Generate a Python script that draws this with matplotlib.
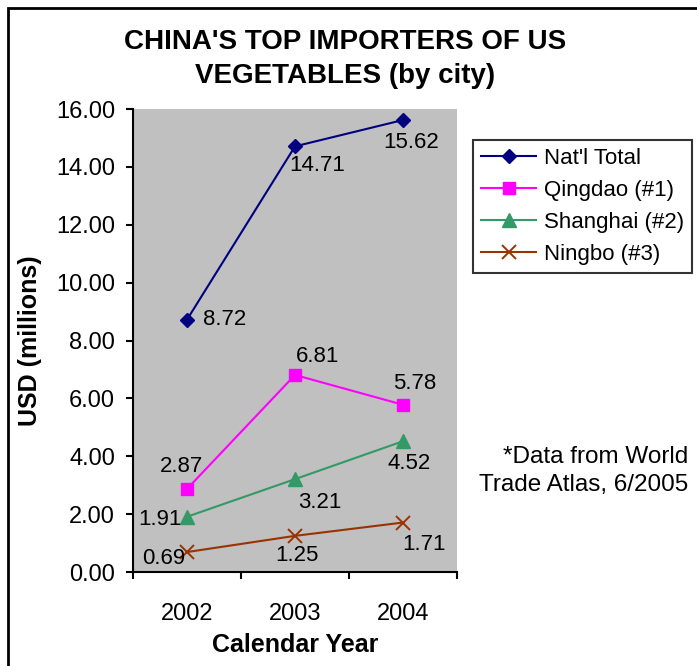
import matplotlib.pyplot as plt
from matplotlib.patches import Rectangle

plt.rcParams['font.family'] = ['Liberation Sans', 'DejaVu Sans']

years = ['2002', '2003', '2004']
natl = [8.72, 14.71, 15.62]
qingdao = [2.87, 6.81, 5.78]
shanghai = [1.91, 3.21, 4.52]
ningbo = [0.69, 1.25, 1.71]

fig = plt.figure(figsize=(6.97, 6.66), dpi=100)
ax = fig.add_axes([0.1908, 0.1411, 0.4649, 0.6952])
ax.set_facecolor('#C0C0C0')

x = range(len(years))
ax.plot(x, natl, color='#000080', marker='D', markersize=7.5, label="Nat'l Total")
ax.plot(x, qingdao, color='#FF00FF', marker='s', markersize=8, label='Qingdao (#1)')
ax.plot(x, shanghai, color='#339966', marker='^', markersize=10, label='Shanghai (#2)')
ax.plot(x, ningbo, color='#993300', marker='x', markersize=9.5, markeredgewidth=1.4, label='Ningbo (#3)')

# label offsets (points) from each point, centred text
offs = {
    'natl': [(27, 0), (16, -13.5), (6, -16)],
    'qingdao': [(-4, 16), (16.5, 13), (8.5, 15)],
    'shanghai': [(-19.5, -2), (18, -17), (4.5, -16)],
    'ningbo': [(-16.5, -4.5), (1.5, -14), (15, -16)],
}
for key, vals in [('natl', natl), ('qingdao', qingdao), ('shanghai', shanghai), ('ningbo', ningbo)]:
    for i, v in enumerate(vals):
        dx, dy = offs[key][i]
        ax.annotate('%.2f' % v, (i, v), xytext=(dx, dy), textcoords='offset points',
                    ha='center', va='center', fontsize=16)

ax.set_xlim(-0.5, 2.5)
ax.set_ylim(0, 16)
ax.set_yticks([0, 2, 4, 6, 8, 10, 12, 14, 16])
ax.set_yticklabels(['%.2f' % t for t in ax.get_yticks()], fontsize=17)
ax.set_xticks([-0.5, 0.5, 1.5, 2.5])
ax.set_xticklabels([])
ax.set_xticks([0, 1, 2], minor=True)
ax.set_xticklabels(years, minor=True, fontsize=17)
ax.tick_params(axis='x', which='minor', length=0, pad=22)
ax.tick_params(axis='both', which='major', direction='out', length=5, width=1.5)
ax.tick_params(axis='y', pad=8)
for s in ['top', 'right']:
    ax.spines[s].set_visible(False)
ax.spines['left'].set_linewidth(1.5)
ax.spines['bottom'].set_linewidth(1.5)

ax.set_ylabel('USD (millions)', fontsize=18, fontweight='bold', labelpad=10)
ax.set_xlabel('Calendar Year', fontsize=18, fontweight='bold', labelpad=6)

fig.text(0.495, 0.911, "CHINA'S TOP IMPORTERS OF US\nVEGETABLES (by city)", ha='center', va='center',
         fontsize=20, fontweight='bold', linespacing=1.4)

leg = fig.legend(loc='upper left', bbox_to_anchor=(0.6786, 0.7898), fontsize=16, frameon=True,
                 fancybox=False, edgecolor='black', borderpad=0.35, handlelength=2.5,
                 labelspacing=0.5, borderaxespad=0, handletextpad=0.35)
leg.get_frame().set_linewidth(1.5)

fig.text(0.987, 0.2928, '*Data from World\nTrade Atlas, 6/2005', ha='right', va='center',
         fontsize=17.5, linespacing=1.35)

fig.patches.append(Rectangle((0.012, -0.05), 1.1, 1.038, transform=fig.transFigure,
                             fill=False, edgecolor='black', linewidth=2))

fig.savefig('out.png', dpi=100)
